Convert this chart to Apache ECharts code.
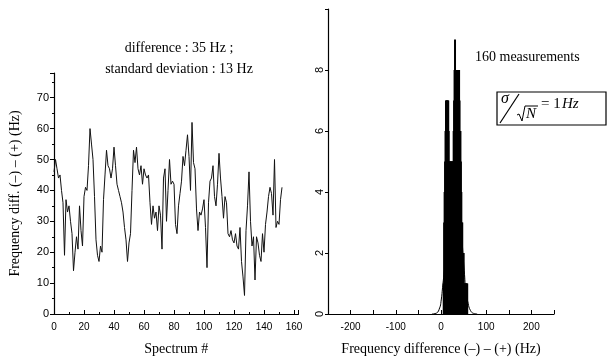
<!DOCTYPE html>
<html><head><meta charset="utf-8">
<script src="https://cdn.jsdelivr.net/npm/echarts@6/dist/echarts.min.js"></script>
<style>html,body{margin:0;padding:0;background:#fff}#c{width:608px;height:361px}</style>
</head><body><div id="c"></div>
<script>
// Left panel: frequency difference per spectrum (Hz)
const spectrumValues = [46,50,47,44,45,40,36,19,37,33,35,30,26,14,20,25,21,35,27,22,
38,41,40,48,60,55,50,38,24,19,17,22,20,37,45,53,48,47,44,47,
54,48,42,40,38,36,33,28,24,17,23,26,40,53,49,54,47,45,48,42,
47,45,44,45,36,29,35,31,33,27,35,32,21,44,47,30,40,50,42,43,
42,29,26,35,39,43,51,48,53,58,51,40,62,49,47,34,27,33,32,34,
37,28,15,36,43,44,48,38,35,42,52,44,38,31,38,36,26,25,27,24,
23,26,22,21,28,17,12,6,27,35,46,30,22,25,11,25,23,19,17,26,
20,29,33,38,41,39,32,50,28,30,29,37,41];
// Right panel: histogram (1 Hz bins) and fitted curve
const histBins   = [6,7,8,9,10,11,12,13,14,15,16,17,18,19,20,21,22,23,24,25,26,27,28,29,30,31,32,33,34,35,36,37,38,39,40,41,42,43,44,45,46,47,48,49,50,51,52,53,54,55,56,57,58];
const histCounts = [1,3,4,5,6,7,7,7,7,7,7,6,5,5,5,5,5,5,5,5,5,5,6,7,8,9,8,8,8,8,8,8,8,8,8,7,6,6,5,4,3,3,2,2,2,1,1,1,1,1,1,1,1];
const fitX = [-20,-10,-3,0,4,10,20,31,40,44,48,52,55,60,65,72,80];
const fitY = [0,0.03,0.2,0.4,0.95,1.8,3.6,4.9,4.0,3.1,2.1,1.3,0.75,0.35,0.12,0.02,0];

const serif = '"Liberation Serif","DejaVu Serif",serif';
const sans = '"Liberation Sans",Arial,sans-serif';
const axisCommon = {
  axisLine:{show:true,onZero:false,lineStyle:{color:'#000',width:1.2}},
  splitLine:{show:false},
};
const chart = echarts.init(document.getElementById('c'));
chart.setOption({
  animation:false,
  backgroundColor:'#fff',
  grid:[
    {left:54,top:73,width:244.5,height:241.8},
    {left:328,top:9,width:226,height:307}
  ],
  xAxis:[
    Object.assign({type:'value',gridIndex:0,min:0,max:163,interval:20,
      axisTick:{inside:true,length:4,lineStyle:{color:'#000'}},
      minorTick:{show:true,splitNumber:2,length:2,lineStyle:{color:'#000'}},
      axisLabel:{color:'#000',fontFamily:sans,fontSize:10,margin:8,
        formatter:v=>(v%20===0&&v<=160)?String(v):''},
      name:'Spectrum #',nameLocation:'middle',nameGap:28,
      nameTextStyle:{fontFamily:serif,fontSize:14,color:'#000'}},axisCommon),
    Object.assign({type:'value',gridIndex:1,min:-250,max:250,interval:50,
      axisTick:{inside:true,length:4,lineStyle:{color:'#000'}},
      axisLabel:{color:'#000',fontFamily:sans,fontSize:10,margin:8,
        formatter:v=>(v%100===0&&Math.abs(v)<250)?(v<0?'-'+(-v):String(v)):''},
      name:'Frequency difference (–) – (+) (Hz)',nameLocation:'middle',nameGap:28,
      nameTextStyle:{fontFamily:serif,fontSize:14,color:'#000'}},axisCommon)
  ],
  yAxis:[
    Object.assign({type:'value',gridIndex:0,min:0,max:78,interval:10,
      axisTick:{inside:false,length:4,lineStyle:{color:'#000'}},
      minorTick:{show:true,splitNumber:2,length:2,lineStyle:{color:'#000'}},
      axisLabel:{color:'#000',fontFamily:sans,fontSize:11,margin:5,
        formatter:v=>(v%10===0&&v<=70)?String(v):''},
      name:'Frequency diff. (–) – (+) (Hz)',nameLocation:'middle',nameGap:32,
      nameTextStyle:{fontFamily:serif,fontSize:14,color:'#000'}},axisCommon),
    Object.assign({type:'value',gridIndex:1,min:0,max:10,interval:2,
      axisTick:{inside:false,length:3,lineStyle:{color:'#000'}},
      axisLabel:{color:'#000',fontFamily:sans,fontSize:11,margin:3,rotate:90,
        formatter:v=>(v<10)?String(v):''}},axisCommon)
  ],
  series:[
    {type:'line',xAxisIndex:0,yAxisIndex:0,showSymbol:false,
      data:spectrumValues.map((v,i)=>[i,v]),
      lineStyle:{color:'#111',width:1}},
    {type:'bar',xAxisIndex:1,yAxisIndex:1,barWidth:2,barGap:'-100%',
      data:histBins.map((b,i)=>[b,histCounts[i]]),
      itemStyle:{color:'#000'}},
    {type:'line',xAxisIndex:1,yAxisIndex:1,showSymbol:false,smooth:true,
      data:fitX.map((x,i)=>[x,fitY[i]]),
      lineStyle:{color:'#000',width:1}}
  ],
  graphic:[
    {type:'text',style:{text:'difference : 35 Hz ;',x:179,y:48,align:'center',verticalAlign:'middle',font:'14px '+serif,fill:'#000'}},
    {type:'text',style:{text:'standard deviation : 13 Hz',x:179,y:69,align:'center',verticalAlign:'middle',font:'14px '+serif,fill:'#000'}},
    {type:'text',style:{text:'160 measurements',x:475,y:57,align:'left',verticalAlign:'middle',font:'14px '+serif,fill:'#000'}},
    {type:'rect',shape:{x:497,y:92,width:109,height:33},style:{fill:'none',stroke:'#000',lineWidth:1.2}},
    {type:'text',style:{text:'σ',x:501,y:99,align:'left',verticalAlign:'middle',font:'italic 16px '+serif,fill:'#000'}},
    {type:'line',shape:{x1:500,y1:123,x2:519,y2:94},style:{stroke:'#000',lineWidth:1.2}},
    {type:'polyline',shape:{points:[[517,115],[519,114],[522,121],[525,106],[538,106]]},style:{stroke:'#000',lineWidth:1,fill:'none'}},
    {type:'text',style:{text:'N',x:526,y:114,align:'left',verticalAlign:'middle',font:'italic 15px '+serif,fill:'#000'}},
    {type:'text',style:{text:'= 1',x:541,y:104,align:'left',verticalAlign:'middle',font:'15px '+serif,fill:'#000'}},
    {type:'text',style:{text:'Hz',x:562,y:104,align:'left',verticalAlign:'middle',font:'italic 15px '+serif,fill:'#000'}}
  ]
});
</script></body></html>
